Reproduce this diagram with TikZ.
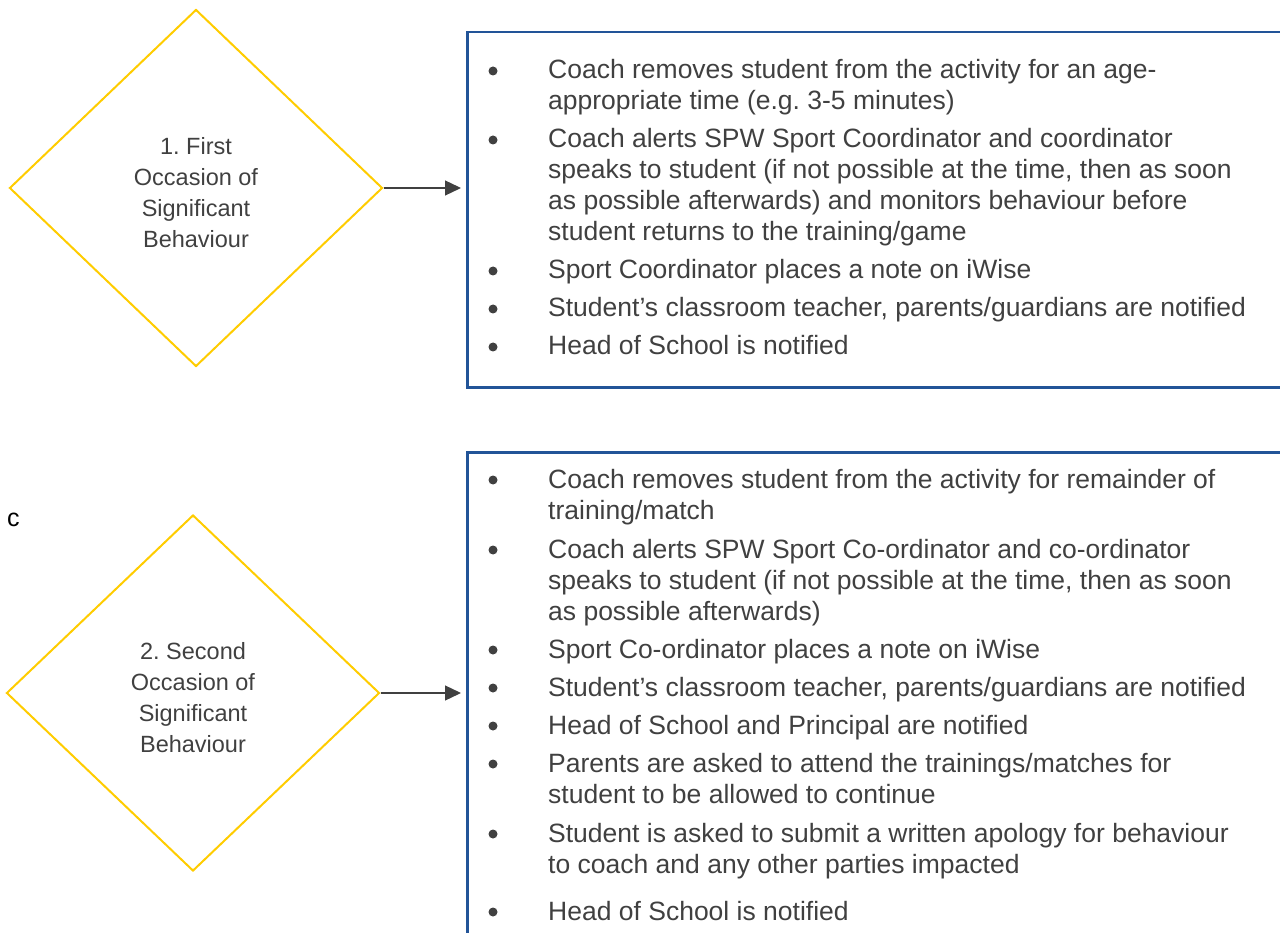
\documentclass[tikz,border=0pt]{standalone}
\usepackage{fontspec}
\setmainfont{Liberation Sans}
\usetikzlibrary{shapes.geometric,arrows.meta}
\definecolor{boxblue}{RGB}{34,84,152}
\definecolor{gold}{RGB}{255,204,0}
\definecolor{textgrey}{RGB}{64,64,64}
\frenchspacing

\tikzset{
  decision/.style={diamond, draw=gold, line width=2pt, inner sep=0pt},
  infobox/.style={rectangle, draw=boxblue, line width=2.5pt, anchor=north west, inner sep=0pt},
  flowarrow/.style={-{Triangle[length=16pt,width=15pt]}, line width=1.3pt, draw=textgrey, fill=textgrey},
  item/.style={anchor=base west, inner sep=0pt, text=textgrey, font=\fontsize{26.5}{31}\selectfont},
  dlabel/.style={align=center, inner sep=0pt, text=textgrey, font=\fontsize{23.5}{31}\selectfont},
}

\begin{document}
\begin{tikzpicture}[x=1pt,y=-1pt]
  \useasboundingbox (0,0) rectangle (1280,933);
  \clip (0,0) rectangle (1280,933);

  % First occasion
  \node[decision, minimum width=373pt, minimum height=357pt] (d1) at (196,188) {};
  \node[dlabel] (d1text) at (196,193) {1. First\\Occasion of\\Significant\\Behaviour};
  \node[infobox, minimum width=830pt, minimum height=355pt] (box1) at (466,31) {};
  \draw[flowarrow, shorten >=5pt] (d1.east) -- (d1.east -| box1.west);

  \foreach \y/\t [count=\i] in {
      79/{Coach removes student from the activity for an age-},
      110/{appropriate time (e.g. 3-5 minutes)},
      148/{Coach alerts SPW Sport Coordinator and coordinator},
      179/{speaks to student (if not possible at the time, then as soon},
      210/{as possible afterwards) and monitors behaviour before},
      241/{student returns to the training/game},
      279/{Sport Coordinator places a note on iWise},
      317/{Student’s classroom teacher, parents/guardians are notified},
      355/{Head of School is notified}}
    \node[item] (first\i) at (548,\y) {\t};
  \foreach \y in {79,148,279,317,355}
    \fill[textgrey] (493,\y-8) circle (4.5);

  % Second occasion
  \node[anchor=base west, inner sep=0pt, font=\fontsize{25}{30}\selectfont] (cmark) at (7,526) {c};
  \node[decision, minimum width=373pt, minimum height=356pt] (d2) at (193,693) {};
  \node[dlabel] (d2text) at (193,698) {2. Second\\Occasion of\\Significant\\Behaviour};
  \node[infobox, minimum width=830pt, minimum height=500pt] (box2) at (466,451) {};
  \draw[flowarrow, shorten >=5pt] (d2.east) -- (d2.east -| box2.west);

  \foreach \y/\t [count=\i] in {
      488/{Coach removes student from the activity for remainder of},
      519/{training/match},
      558/{Coach alerts SPW Sport Co-ordinator and co-ordinator},
      589/{speaks to student (if not possible at the time, then as soon},
      620/{as possible afterwards)},
      658/{Sport Co-ordinator places a note on iWise},
      696/{Student’s classroom teacher, parents/guardians are notified},
      734/{Head of School and Principal are notified},
      772/{Parents are asked to attend the trainings/matches for},
      803/{student to be allowed to continue},
      842/{Student is asked to submit a written apology for behaviour},
      873/{to coach and any other parties impacted},
      920/{Head of School is notified}}
    \node[item] (second\i) at (548,\y) {\t};
  \foreach \y in {488,558,658,696,734,772,842,920}
    \fill[textgrey] (493,\y-8) circle (4.5);
\end{tikzpicture}
\end{document}
